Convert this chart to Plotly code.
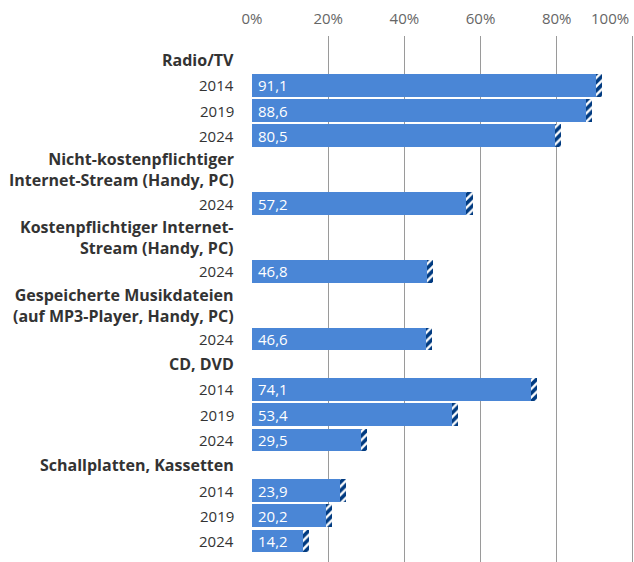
import plotly.graph_objects as go

# Media categories (header text) and survey years with shares in percent
categories = [
    "Radio/TV",
    "Nicht-kostenpflichtiger<br>Internet-Stream (Handy, PC)",
    "Kostenpflichtiger Internet-<br>Stream (Handy, PC)",
    "Gespeicherte Musikdateien<br>(auf MP3-Player, Handy, PC)",
    "CD, DVD",
    "Schallplatten, Kassetten",
]
years = [
    ["2014", "2019", "2024"],
    ["2024"],
    ["2024"],
    ["2024"],
    ["2014", "2019", "2024"],
    ["2014", "2019", "2024"],
]
values = [
    [91.1, 88.6, 80.5],
    [57.2],
    [46.8],
    [46.6],
    [74.1, 53.4, 29.5],
    [23.9, 20.2, 14.2],
]
x_ticks = [0, 20, 40, 60, 80, 100]
x_tick_labels = ["0%", "20%", "40%", "60%", "80%", "100%"]

BLUE = "#4a86d6"
DARK = "#003a80"
TEXT = "#333333"
FONT = "Open Sans"
HEADER_LINE_H = 1.68  # row height of a two-line header, in bar-row units

# Stack rows top to bottom: header rows followed by one row per year
rows = []  # (kind, label, value)
for cat, yrs, vals in zip(categories, years, values):
    rows.append(("head", cat, None))
    for yr, v in zip(yrs, vals):
        rows.append(("bar", yr, v))

pos = []
cursor = 0.0
for kind, label, _ in rows:
    h = HEADER_LINE_H if (kind == "head" and "<br>" in label) else 1.0
    pos.append(cursor + h / 2)
    cursor += h

bar_y = [p for p, r in zip(pos, rows) if r[0] == "bar"]
bar_v = [r[2] for r in rows if r[0] == "bar"]

fig = go.Figure()
fig.add_trace(go.Bar(
    y=bar_y, x=bar_v, orientation="h", width=0.9,
    marker=dict(color=BLUE, line=dict(width=0)),
    hoverinfo="skip",
))
# Hatched uncertainty cap at the end of each bar
fig.add_trace(go.Bar(
    y=bar_y, x=[1.6] * len(bar_v), base=[v - 0.9 for v in bar_v],
    orientation="h", width=0.9,
    marker=dict(color="white", line=dict(width=0),
                pattern=dict(shape="/", fgcolor=DARK, bgcolor="white",
                             fgopacity=1, size=6, solidity=0.6)),
    hoverinfo="skip",
))

annotations = []
for p, (kind, label, v) in zip(pos, rows):
    is_head = kind == "head"
    annotations.append(dict(
        xref="paper", x=0, y=p, yref="y", xanchor="right", xshift=-16,
        text=f"<b>{label}</b>" if is_head else label,
        showarrow=False, align="right",
        font=dict(family=FONT, size=16 if is_head else 15, color=TEXT),
    ))
    if kind == "bar":
        annotations.append(dict(
            x=0, y=p, xanchor="left", xshift=4, showarrow=False,
            text=f"{v:.1f}".replace(".", ","),
            font=dict(family=FONT, size=15, color="white"),
        ))

# The last tick label sits flush with the right edge of the chart
annotations.append(dict(
    x=x_ticks[-1], xref="x", y=1, yref="paper", yanchor="bottom", yshift=6,
    xanchor="right", xshift=-2, text=x_tick_labels[-1], showarrow=False,
    font=dict(family=FONT, size=15, color="#666666"),
))

top = pos[0] - 0.95
fig.update_layout(
    width=634, height=562,
    margin=dict(l=252, r=0, t=36, b=0),
    paper_bgcolor="white", plot_bgcolor="white",
    barmode="overlay", showlegend=False, bargap=0,
    annotations=annotations,
    xaxis=dict(
        side="top", range=[0, 100.3], tickvals=x_ticks,
        ticktext=x_tick_labels[:-1] + [""],
        showgrid=True, gridcolor="#9a9a9a", gridwidth=1, zeroline=False,
        showline=False, ticks="", ticklabelstandoff=8,
        tickfont=dict(family=FONT, size=15, color="#666666"),
        fixedrange=True,
    ),
    yaxis=dict(
        range=[top + 20.82, top], showticklabels=False, showgrid=False,
        zeroline=False, showline=False, ticks="", fixedrange=True,
    ),
)

fig.write_html("out.html")
